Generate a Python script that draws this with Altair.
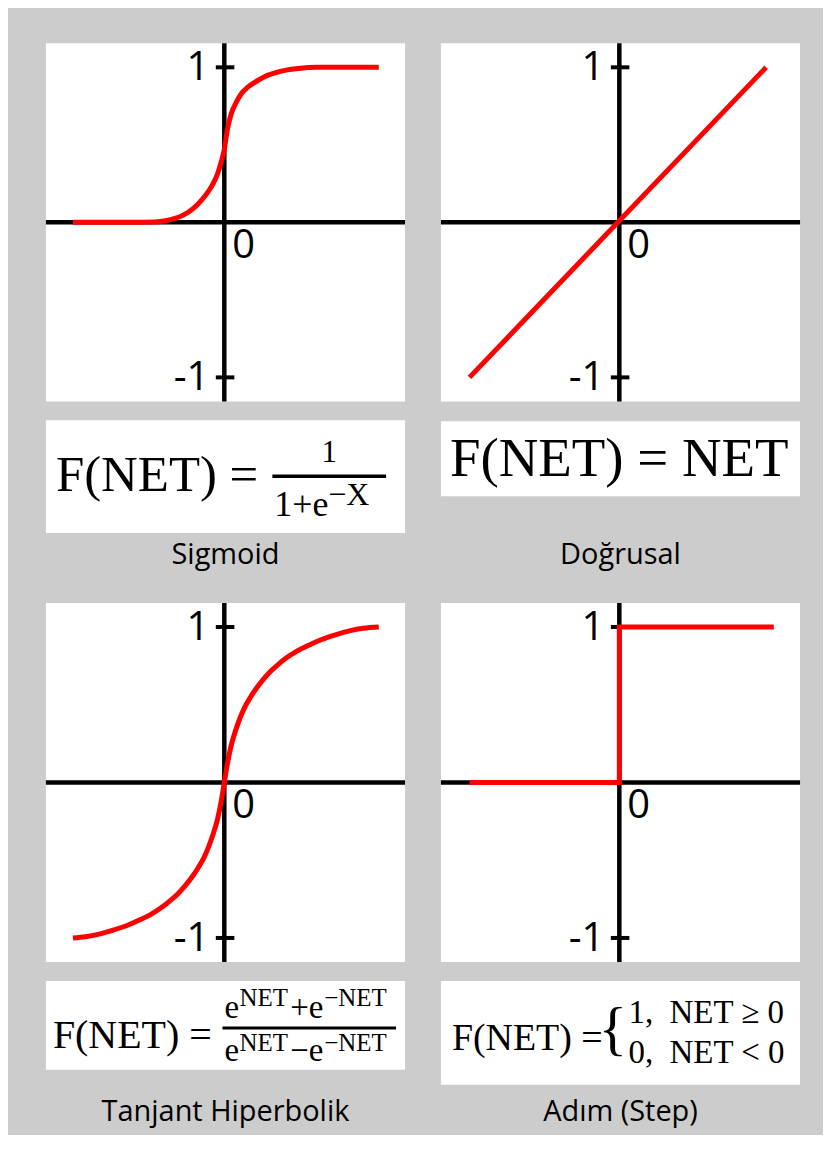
import altair as alt
import pandas as pd

# ---------------- data ----------------
sig_x = [-0.98, -0.6, -0.45, -0.38, -0.32, -0.26, -0.2, -0.15, -0.11, -0.075, -0.045, -0.02,
         0.0, 0.02, 0.045, 0.075, 0.11, 0.15, 0.2, 0.26, 0.33, 0.4, 0.48, 0.6, 1.0]
sig_y = [0.0, 0.0, 0.002, 0.01, 0.025, 0.05, 0.09, 0.14, 0.19, 0.245, 0.31, 0.39,
         0.47, 0.60, 0.70, 0.77, 0.83, 0.87, 0.905, 0.94, 0.965, 0.982, 0.993, 1.0, 1.0]

lin_x = [-0.97, 0.95]
lin_y = [-1.0, 1.0]

tanh_x = [-0.98, -0.9, -0.81, -0.72, -0.63, -0.55, -0.47, -0.4, -0.35, -0.3, -0.25, -0.2,
          -0.17, -0.13, -0.1, -0.075, -0.045, -0.02, 0.0, 0.02, 0.045, 0.075, 0.1, 0.13,
          0.17, 0.2, 0.25, 0.3, 0.35, 0.4, 0.47, 0.55, 0.63, 0.72, 0.81, 0.9, 1.0]
tanh_y = [-1.0, -0.992, -0.975, -0.95, -0.92, -0.885, -0.845, -0.80, -0.76, -0.715, -0.66, -0.595,
          -0.55, -0.48, -0.41, -0.34, -0.24, -0.12, 0.0, 0.12, 0.24, 0.34, 0.41, 0.48,
          0.55, 0.595, 0.66, 0.715, 0.76, 0.80, 0.845, 0.885, 0.92, 0.95, 0.975, 0.992, 1.0]

step_x = [-0.97, 0.0, 0.0, 1.0]
step_y = [0.0, 0.0, 1.0, 1.0]

tick_values = [1, -1]
tick_labels = ["1", "-1"]
zero_label = ["0"]

panel_names = ["Sigmoid", "Doğrusal", "Tanjant Hiperbolik", "Adım (Step)"]

sig_formula = ["F(NET) =", "1", "1+e", "−X"]
lin_formula = ["F(NET) = NET"]
tanh_formula = ["F(NET) =", "e", "NET", "+e", "−NET", "e", "NET", "−e", "−NET"]
step_formula = ["F(NET) =", "{", "1,\u00a0\u00a0NET ≥ 0", "0,\u00a0\u00a0NET < 0"]

# ---------------- styling ----------------
SANS = "Open Sans"
SERIF = "Liberation Serif"
RED = "#ff0000"
W = 360
XD = [-1.155, 1.17]
YD = [-1.155, 1.155]


def xs():
    return alt.Scale(domain=XD, nice=False, zero=False)


def ys():
    return alt.Scale(domain=YD, nice=False, zero=False)


one = pd.DataFrame({"k": [0]})
ticks_df = pd.DataFrame({"v": tick_values, "lab": tick_labels})
zero_df = pd.DataFrame({"lab": zero_label})


def panel(xv, yv, h, interp):
    curve_df = pd.DataFrame({"x": xv, "y": yv, "i": list(range(len(xv)))})
    vaxis = alt.Chart(one).mark_rule(color="black", strokeWidth=4.5).encode(
        x=alt.XDatum(0, scale=xs(), axis=None)
    )
    haxis = alt.Chart(one).mark_rule(color="black", strokeWidth=4.5).encode(
        y=alt.YDatum(0, scale=ys(), axis=None)
    )
    tks = alt.Chart(ticks_df).mark_rule(color="black", strokeWidth=4).encode(
        x=alt.XDatum(-0.055, scale=xs(), axis=None),
        x2=alt.X2Datum(0.065),
        y=alt.Y("v:Q", scale=ys(), axis=None),
    )
    tlab = alt.Chart(ticks_df).mark_text(
        align="right", baseline="middle", dx=-15, dy=1, font=SANS, fontSize=40, color="black"
    ).encode(
        x=alt.XDatum(0, scale=xs(), axis=None),
        y=alt.Y("v:Q", scale=ys(), axis=None),
        text="lab:N",
    )
    zlab = alt.Chart(zero_df).mark_text(
        align="left", baseline="middle", dx=8, dy=24, font=SANS, fontSize=40, color="black"
    ).encode(
        x=alt.XDatum(0, scale=xs(), axis=None),
        y=alt.YDatum(0, scale=ys(), axis=None),
        text="lab:N",
    )
    curve = alt.Chart(curve_df).mark_line(
        color=RED, strokeWidth=5, interpolate=interp
    ).encode(
        x=alt.X("x:Q", scale=xs(), axis=None),
        y=alt.Y("y:Q", scale=ys(), axis=None),
        order=alt.Order("i:Q"),
    )
    return alt.layer(vaxis, haxis, tks, tlab, zlab, curve).properties(
        width=W, height=h, view=alt.ViewBackground(fill="white", stroke=None)
    )


def txt(s, x, y, size, font=SERIF, align="left"):
    return alt.Chart(one).mark_text(
        text=s, font=font, fontSize=size, align=align, baseline="alphabetic", color="black"
    ).encode(x=alt.value(x), y=alt.value(y))


def box(y1, y2):
    return alt.Chart(one).mark_rect(color="white").encode(
        x=alt.value(0), x2=alt.value(W), y=alt.value(y1), y2=alt.value(y2)
    )


def bar(x1, x2, y, w=3.5):
    return alt.Chart(one).mark_rule(color="black", strokeWidth=w).encode(
        x=alt.value(x1), x2=alt.value(x2), y=alt.value(y)
    )


# caption cells
cap_sig = alt.layer(
    box(19, 132),
    txt(sig_formula[0], 10, 90, 51),
    bar(227, 341, 75),
    txt(sig_formula[1], 284, 61, 31, align="center"),
    txt(sig_formula[2], 229, 115, 36),
    txt(sig_formula[3], 283, 104, 32),
    txt(panel_names[0], 180, 163, 29, font=SANS, align="center"),
).properties(width=W, height=202)

cap_lin = alt.layer(
    box(20, 95),
    txt(lin_formula[0], 9, 75, 55),
    txt(panel_names[1], 180, 163, 29, font=SANS, align="center"),
).properties(width=W, height=202)

cap_tanh = alt.layer(
    box(19, 108),
    txt(tanh_formula[0], 7, 86, 40),
    bar(177, 351, 66, 3),
    txt(tanh_formula[1], 179, 56, 33),
    txt(tanh_formula[2], 194, 44, 25),
    txt(tanh_formula[3], 245, 56, 33),
    txt(tanh_formula[4], 279, 44, 25),
    txt(tanh_formula[5], 179, 99, 33),
    txt(tanh_formula[6], 194, 89, 25),
    txt(tanh_formula[7], 245, 99, 33),
    txt(tanh_formula[8], 279, 89, 25),
    txt(panel_names[2], 180, 159, 29, font=SANS, align="center"),
).properties(width=W, height=172)

cap_step = alt.layer(
    box(19, 123),
    txt(step_formula[0], 11, 88, 38),
    txt(step_formula[1], 158, 86, 60),
    txt(step_formula[2], 188, 61, 33),
    txt(step_formula[3], 188, 101, 33),
    txt(panel_names[3], 180, 159, 29, font=SANS, align="center"),
).properties(width=W, height=172)

chart = alt.concat(
    panel(sig_x, sig_y, 359, "monotone"),
    panel(lin_x, lin_y, 359, "linear"),
    cap_sig,
    cap_lin,
    panel(tanh_x, tanh_y, 360, "monotone"),
    panel(step_x, step_y, 360, "linear"),
    cap_tanh,
    cap_step,
    columns=2,
    spacing=alt.RowColnumber(row=0, column=36),
    bounds="flush",
).properties(
    padding={"left": 35, "top": 31, "right": 20, "bottom": 0},
    background="#cccccc",
).configure_view(stroke=None)

chart.save("out.html", embed_options={"renderer": "svg", "actions": False})
